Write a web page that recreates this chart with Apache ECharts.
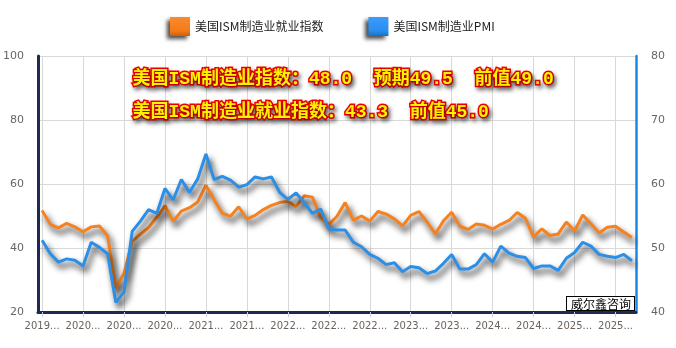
<!DOCTYPE html>
<html>
<head>
<meta charset="utf-8">
<script src="https://cdn.jsdelivr.net/npm/echarts@6/dist/echarts.min.js"></script>
<style>html,body{margin:0;padding:0;background:#fff;}#c{width:676px;height:348px;}</style>
</head>
<body>
<div id="c"></div>
<script>
// release months (data for previous month)
var categories = [
 '2019-08','2019-09','2019-10','2019-11','2019-12',
 '2020-01','2020-02','2020-03','2020-04','2020-05','2020-06','2020-07','2020-08','2020-09','2020-10','2020-11','2020-12',
 '2021-01','2021-02','2021-03','2021-04','2021-05','2021-06','2021-07','2021-08','2021-09','2021-10','2021-11','2021-12',
 '2022-01','2022-02','2022-03','2022-04','2022-05','2022-06','2022-07','2022-08','2022-09','2022-10','2022-11','2022-12',
 '2023-01','2023-02','2023-03','2023-04','2023-05','2023-06','2023-07','2023-08','2023-09','2023-10','2023-11','2023-12',
 '2024-01','2024-02','2024-03','2024-04','2024-05','2024-06','2024-07','2024-08','2024-09','2024-10','2024-11','2024-12',
 '2025-01','2025-02','2025-03','2025-04','2025-05','2025-06','2025-07','2025-08'
];
var employment = [
 51.7,47.4,46.3,47.7,46.6,45.1,
 46.6,46.9,43.8,27.5,32.1,42.1,44.3,46.4,49.6,53.2,48.4,51.5,
 52.6,54.4,59.6,55.1,50.9,49.9,52.9,49.0,50.2,52.0,53.3,54.2,
 54.5,52.9,56.3,55.9,49.6,47.3,49.9,54.2,48.7,50.0,48.4,51.4,
 50.6,49.1,46.9,50.2,51.4,48.1,44.4,48.5,51.2,46.8,45.8,47.5,
 47.1,45.9,47.4,48.6,51.1,49.3,43.4,46.0,43.9,44.4,48.1,45.3,
 50.3,47.6,44.7,46.5,46.8,45.0,43.3
];
var pmi = [
 51.2,49.1,47.8,48.3,48.1,47.2,
 50.9,50.1,49.1,41.5,43.1,52.6,54.2,56.0,55.4,59.3,57.5,60.7,
 58.7,60.8,64.7,60.7,61.2,60.6,59.5,59.9,61.1,60.8,61.1,58.7,
 57.6,58.6,57.1,55.4,56.1,53.0,52.8,52.8,50.9,50.2,49.0,48.4,
 47.4,47.7,46.3,47.1,46.9,46.0,46.4,47.6,49.0,46.7,46.7,47.4,
 49.1,47.8,50.3,49.2,48.7,48.5,46.8,47.2,47.2,46.5,48.4,49.3,
 50.9,50.3,49.0,48.7,48.5,49.0,48.0
];
var seriesNames = ['美国ISM制造业就业指数', '美国ISM制造业PMI'];
var headline1 = '美国ISM制造业指数：48.0  预期49.5  前值49.0';
var headline2 = '美国ISM制造业就业指数：43.3  前值45.0';
var watermark = '威尔鑫咨询';

var chart = echarts.init(document.getElementById('c'), null, {renderer: 'canvas'});
var ORANGE = '#F5811F', BLUE = '#2B8FE8';
function grad(top, mid, bot) {
  return {type: 'linear', x: 0, y: 0, x2: 0, y2: 1,
    colorStops: [{offset: 0, color: top}, {offset: 0.72, color: mid}, {offset: 1, color: bot}]};
}
var lineShadow = {shadowColor: 'rgba(0,0,0,0.85)', shadowBlur: 6, shadowOffsetX: 3, shadowOffsetY: 5};
var textFont = '"Liberation Mono", "Noto Sans CJK SC", monospace';

chart.setOption({
  animation: false,
  backgroundColor: '#fff',
  grid: {left: 37, right: 40, top: 56, bottom: 36, containLabel: false},
  legend: {
    left: 165, top: 12, itemGap: 45, itemWidth: 20, itemHeight: 19, icon: 'rect',
    textStyle: {color: '#222', fontSize: 12, fontFamily: '"Noto Sans CJK SC", sans-serif'},
    data: [
      {name: seriesNames[0], itemStyle: {color: grad('#F98A2C', '#F47A1A', '#CC5E08'),
        shadowColor: 'rgba(0,0,0,0.7)', shadowBlur: 4, shadowOffsetX: -3, shadowOffsetY: 3}},
      {name: seriesNames[1], itemStyle: {color: grad('#3A9BFA', '#2B8DEE', '#1770C4'),
        shadowColor: 'rgba(0,0,0,0.7)', shadowBlur: 4, shadowOffsetX: -3, shadowOffsetY: 3}}
    ]
  },
  xAxis: {
    type: 'category', data: categories, boundaryGap: true,
    axisLine: {lineStyle: {color: '#1f2a52', width: 3}},
    axisTick: {show: true, interval: 4, alignWithLabel: true, length: 5, lineStyle: {color: '#c5d2e6'}},
    axisLabel: {interval: 4, color: '#6b625c', fontSize: 10, margin: 9,
      fontFamily: '"DejaVu Sans", sans-serif',
      formatter: function (v) { return v.slice(0, 4) + '...'; }},
    splitLine: {show: true, interval: 4, alignWithLabel: true, lineStyle: {color: '#d9d9d9', width: 1}}
  },
  yAxis: [
    {type: 'value', position: 'left', min: 20, max: 100, interval: 20,
      axisLine: {show: true, lineStyle: {color: '#1f2a52', width: 3}},
      axisTick: {show: false},
      axisLabel: {color: '#666', fontSize: 11, margin: 14, fontFamily: '"DejaVu Sans", sans-serif'},
      splitLine: {show: true, lineStyle: {color: '#d9d9d9', width: 1}}},
    {type: 'value', position: 'right', min: 40, max: 80, interval: 10,
      axisLine: {show: true, lineStyle: {color: '#1E88E5', width: 2.5}},
      axisTick: {show: false},
      axisLabel: {color: '#666', fontSize: 11, margin: 15, fontFamily: '"DejaVu Sans", sans-serif'},
      splitLine: {show: false}}
  ],
  series: [
    {name: seriesNames[0], type: 'line', yAxisIndex: 0, data: employment, showSymbol: false,
      symbol: 'none', color: ORANGE,
      lineStyle: Object.assign({color: ORANGE, width: 3}, lineShadow)},
    {name: seriesNames[1], type: 'line', yAxisIndex: 1, data: pmi, showSymbol: false,
      symbol: 'none', color: BLUE,
      lineStyle: Object.assign({color: BLUE, width: 3}, lineShadow)}
  ],
  graphic: [
    {type: 'text', left: 131, top: 69, z: 100,
      style: {text: headline1, font: 'bold 18px ' + textFont, fill: '#FFF200', stroke: '#F00000', lineWidth: 3,
        strokeFirst: true,
        textShadowColor: 'rgba(0,0,0,0.45)', textShadowBlur: 4, textShadowOffsetX: 2, textShadowOffsetY: 3}},
    {type: 'text', left: 131, top: 102, z: 100,
      style: {text: headline2, font: 'bold 18px ' + textFont, fill: '#FFF200', stroke: '#F00000', lineWidth: 3,
        strokeFirst: true,
        textShadowColor: 'rgba(0,0,0,0.45)', textShadowBlur: 4, textShadowOffsetX: 2, textShadowOffsetY: 3}},
    {type: 'text', right: 41, bottom: 37, z: 100,
      style: {text: watermark, font: '12px "Noto Sans CJK SC", sans-serif', fill: '#000',
        backgroundColor: '#fff', borderColor: '#000', borderWidth: 1, padding: [1, 3, 0, 4]}}
  ]
});
</script>
</body>
</html>
